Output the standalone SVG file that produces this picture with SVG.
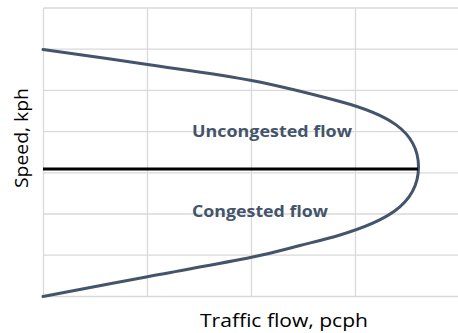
<svg xmlns="http://www.w3.org/2000/svg" width="458" height="333" viewBox="0 0 458 333">
  <style>
    .grid line { stroke: #d9d9d9; stroke-width: 1.3; }
    .curve { fill: none; stroke: #44546a; stroke-width: 3; stroke-linejoin: round; stroke-linecap: round; }
    .capacity { stroke: #000; stroke-width: 3; }
    .region { font-family: "Open Sans", "Noto Sans", sans-serif; font-weight: bold; font-size: 16px; fill: #44546a; }
    .axis { font-family: "Open Sans", "Noto Sans", sans-serif; font-size: 18px; fill: #000; }
  </style>
  <rect width="458" height="333" fill="#fff"/>

  <!-- plot grid -->
  <g id="grid" class="grid">
    <line x1="43.5" y1="8" x2="458" y2="8"/>
    <line x1="43.5" y1="49.2" x2="458" y2="49.2"/>
    <line x1="43.5" y1="90.4" x2="458" y2="90.4"/>
    <line x1="43.5" y1="131.6" x2="458" y2="131.6"/>
    <line x1="43.5" y1="172.8" x2="458" y2="172.8"/>
    <line x1="43.5" y1="214" x2="458" y2="214"/>
    <line x1="43.5" y1="255.2" x2="458" y2="255.2"/>
    <line x1="43.5" y1="296.5" x2="458" y2="296.5"/>
    <line x1="43.5" y1="8" x2="43.5" y2="296.5"/>
    <line x1="147.5" y1="8" x2="147.5" y2="296.5"/>
    <line x1="251.5" y1="8" x2="251.5" y2="296.5"/>
    <line x1="355.5" y1="8" x2="355.5" y2="296.5"/>
  </g>

  <!-- speed-flow curve and capacity line -->
  <g id="connectors">
    <path id="speed-flow-curve" class="curve" d="M43,49.5 C60.4,52 112.75,59.33 147.5,64.5 C182.25,69.67 219.42,74.33 251.5,80.5 C283.58,86.67 318.58,95.75 340,101.5 C385,113.6 418.5,130 418.5,167 C418.5,206.5 380,223 340,235 C326.17,239.25 314.75,241.78 300,245.5 C285.25,249.22 276.92,252.1 251.5,257.3 C226.08,262.5 182.25,270.17 147.5,276.7 C112.75,283.23 60.42,293.2 43,296.5"/>
    <line id="capacity-line" class="capacity" x1="43" y1="169" x2="418" y2="169"/>
  </g>

  <g id="uncongested-label">
    <text class="region" x="192" y="137.3" textLength="160" lengthAdjust="spacingAndGlyphs">Uncongested flow</text>
  </g>
  <g id="congested-label">
    <text class="region" x="192" y="217" textLength="136" lengthAdjust="spacingAndGlyphs">Congested flow</text>
  </g>

  <g id="x-axis-title">
    <text class="axis" x="200" y="327.3" textLength="168" lengthAdjust="spacingAndGlyphs">Traffic flow, pcph</text>
  </g>
  <g id="y-axis-title">
    <text class="axis" transform="translate(28.3,138) rotate(-90)" text-anchor="middle" textLength="100" lengthAdjust="spacingAndGlyphs">Speed, kph</text>
  </g>
</svg>
